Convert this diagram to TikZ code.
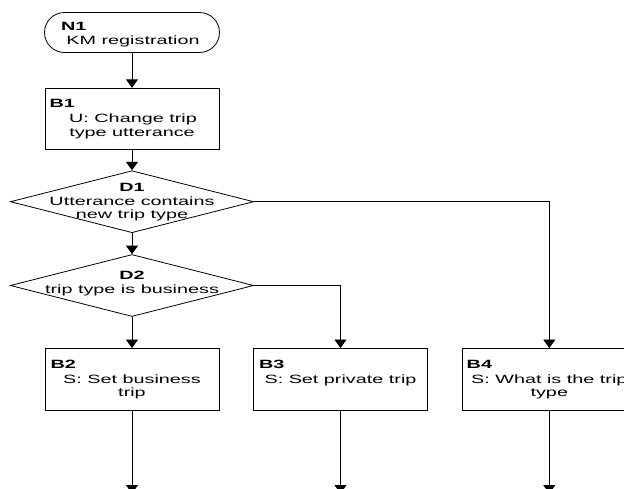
\documentclass[tikz,border=0pt]{standalone}
\usepackage{fontspec}
\setmainfont{Liberation Sans}
\usepackage{graphicx}
\usetikzlibrary{arrows.meta,shapes.geometric,shapes.misc}
\newcommand{\sx}[1]{\scalebox{1.65}[1]{#1}}
\begin{document}
\begin{tikzpicture}[x=1pt,y=-1pt,
  shp/.style={draw=black, line width=0.8pt, inner sep=0pt},
  boxnode/.style={shp, rectangle, minimum width=174pt, minimum height=61.5pt},
  decnode/.style={shp, diamond, minimum width=243.3pt, minimum height=62pt},
  txt/.style={inner sep=0pt, anchor=base, font=\fontsize{12}{13.4}\selectfont},
  lbl/.style={inner sep=0pt, anchor=base west, font=\fontsize{12}{13.4}\selectfont\bfseries},
  arr/.style={line width=0.8pt, -{Triangle[length=8.5pt,width=12pt]}}]
\useasboundingbox (0,0) rectangle (624,488);
\clip (0,0) rectangle (624,488);
% shapes
\node[shp, rounded rectangle, minimum width=175pt, minimum height=40pt] (N1) at (132,32.5) {};
\node[boxnode] (B1) at (132,119) {};
\node[decnode] (D1) at (132,201.7) {};
\node[decnode] (D2) at (132,285.5) {};
\node[boxnode] (B2) at (132,379.2) {};
\node[boxnode] (B3) at (340.5,379.2) {};
\node[boxnode] (B4) at (549.3,379.2) {};
\coordinate (e2) at (132,493.5);
\coordinate (e3) at (340.5,493.5);
\coordinate (e4) at (549.3,493.5);
% texts
\node[lbl] (tN1) at (61,30.7) {\sx{N1}};
\node[txt] (tN1a) at (133,44.3) {\sx{KM registration}};
\node[lbl] (tB1) at (49.5,107.3) {\sx{B1}};
\node[txt] (tB1a) at (133,122.7) {\sx{U: Change trip}};
\node[txt] (tB1b) at (132,136) {\sx{type utterance}};
\node[txt, font=\fontsize{12}{13.4}\selectfont\bfseries] (tD1) at (132,191.7) {\sx{D1}};
\node[txt] (tD1a) at (132,205) {\sx{Utterance contains}};
\node[txt] (tD1b) at (132,218.3) {\sx{new trip type}};
\node[txt, font=\fontsize{12}{13.4}\selectfont\bfseries] (tD2) at (132,279.5) {\sx{D2}};
\node[txt] (tD2a) at (132,293.8) {\sx{trip type is business}};
\node[lbl] (tB2) at (50.5,368.3) {\sx{B2}};
\node[txt] (tB2a) at (132,383.3) {\sx{S: Set business}};
\node[txt] (tB2b) at (132,396.7) {\sx{trip}};
\node[lbl] (tB3) at (259,368.3) {\sx{B3}};
\node[txt] (tB3a) at (340.5,383.3) {\sx{S: Set private trip}};
\node[lbl] (tB4) at (466.5,368.3) {\sx{B4}};
\node[txt] (tB4a) at (549.3,383.3) {\sx{S: What is the trip}};
\node[txt] (tB4b) at (549.3,396.7) {\sx{type}};
% connectors
\draw[arr] (N1) -- (B1);
\draw[arr] (B1) -- (D1);
\draw[arr] (D1) -- (D2);
\draw[arr] (D2) -- (B2);
\draw[arr] (D1.east) -| (B4.north);
\draw[arr] (D2.east) -| (B3.north);
\draw[arr] (B2) -- (e2);
\draw[arr] (B3) -- (e3);
\draw[arr] (B4) -- (e4);
\end{tikzpicture}
\end{document}
